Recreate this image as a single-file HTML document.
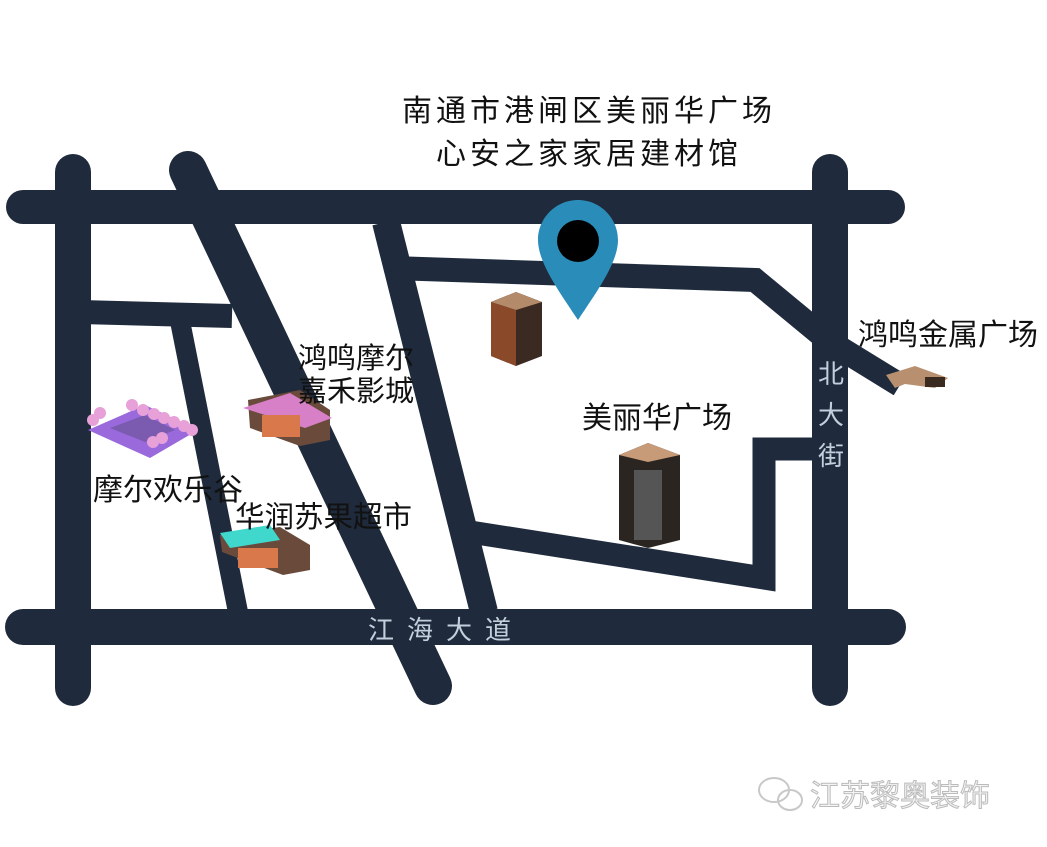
<!DOCTYPE html>
<html><head><meta charset="utf-8"><style>
html,body{margin:0;padding:0;background:#fff;}
svg{display:block}
text{font-family:"Liberation Sans","Noto Sans CJK SC",sans-serif;}
</style></head><body>
<svg width="1047" height="847" viewBox="0 0 1047 847" xmlns="http://www.w3.org/2000/svg">
<rect width="1047" height="847" fill="#fff"/>
<g stroke="#1f2b3c" fill="none">
  <line x1="23" y1="207" x2="888" y2="207" stroke-width="34" stroke-linecap="round"/>
  <line x1="23" y1="627" x2="888" y2="627" stroke-width="36" stroke-linecap="round"/>
  <line x1="73" y1="172" x2="73" y2="688" stroke-width="36" stroke-linecap="round"/>
  <line x1="830" y1="172" x2="830" y2="688" stroke-width="36" stroke-linecap="round"/>
  <line x1="188" y1="170" x2="433" y2="686" stroke-width="38" stroke-linecap="round"/>
  <line x1="386" y1="222" x2="484" y2="612" stroke-width="28"/>
  <line x1="80" y1="312" x2="232" y2="316" stroke-width="24"/>
  <line x1="179" y1="316" x2="238" y2="612" stroke-width="20"/>
  <polyline points="392,268 755,280 830,342 900,385" stroke-width="24" stroke-linejoin="miter"/>
  <polyline points="470,532 764,578 764,449 815,449" stroke-width="23" stroke-linejoin="miter"/>
</g>
<!-- pin -->
<path d="M578,200 C600,200 618,218 618,240 C618,262 598,290 578,320 C558,290 538,262 538,240 C538,218 556,200 578,200 Z" fill="#2a8cb8"/>
<circle cx="578" cy="241" r="21" fill="#000"/>
<!-- buildings -->
<g>
  <polygon points="491,302 516,292 542,302 542,356 516,366 491,356" fill="#3b2a22"/>
  <polygon points="491,302 516,292 542,302 516,310" fill="#b38a6a"/>
  <polygon points="491,302 516,310 516,366 491,356" fill="#8a4a2a"/>
  <polygon points="619,455 648,443 680,455 680,540 648,548 619,540" fill="#2a2520"/>
  <polygon points="619,455 648,443 680,455 648,462" fill="#c79a78"/>
  <rect x="634" y="470" width="28" height="70" fill="#555"/>
  <polygon points="248,400 300,390 330,410 330,440 300,446 250,428" fill="#6a4a3a"/>
  <polygon points="243,408 290,393 332,418 305,428" fill="#d77fc7"/>
  <rect x="262" y="415" width="38" height="22" fill="#d9784a"/>
  <polygon points="220,535 280,527 310,545 310,570 283,575 222,552" fill="#6a4a3a"/>
  <polygon points="220,533 270,525 280,540 230,548" fill="#40d8cc"/>
  <rect x="238" y="548" width="40" height="20" fill="#d9784a"/>
  <polygon points="88,430 145,405 198,430 150,458" fill="#9a6adc"/>
  <polygon points="110,428 145,415 175,430 145,442" fill="#7a5bb0"/>
  <g fill="#e7a0d8"><circle cx="93" cy="420" r="6"/><circle cx="100" cy="413" r="6"/><circle cx="132" cy="405" r="6"/><circle cx="143" cy="410" r="6"/><circle cx="154" cy="414" r="6"/><circle cx="164" cy="418" r="6"/><circle cx="174" cy="422" r="6"/><circle cx="184" cy="426" r="6"/><circle cx="192" cy="430" r="6"/><circle cx="153" cy="442" r="6"/><circle cx="162" cy="438" r="6"/></g>
  <polygon points="886,375 915,366 948,378 935,388 905,384 895,388" fill="#b89070"/>
  <rect x="925" y="377" width="20" height="10" fill="#3a2a20"/>
</g>
<!-- labels -->
<g font-size="30" fill="#111" text-anchor="middle" letter-spacing="4">
  <text x="589" y="121">南通市港闸区美丽华广场</text>
  <text x="589" y="164">心安之家家居建材馆</text>
</g>
<g font-size="30" fill="#111">
  <text x="298" y="368" font-size="29">鸿鸣摩尔</text>
  <text x="298" y="401" font-size="29">嘉禾影城</text>
  <text x="93" y="500">摩尔欢乐谷</text>
  <text x="235" y="527" font-size="29.5">华润苏果超市</text>
  <text x="582" y="428">美丽华广场</text>
  <text x="858" y="345">鸿鸣金属广场</text>
</g>
<g font-size="26" fill="#c3cfdc" text-anchor="middle">
  <text x="831" y="383">北</text>
  <text x="831" y="424">大</text>
  <text x="831" y="465">街</text>
</g>
<text x="368" y="639" font-size="26" fill="#c3cfdc" letter-spacing="13">江海大道</text>
<!-- watermark -->
<g fill="none" stroke="#c8c8c8" stroke-width="2">
  <ellipse cx="774" cy="790" rx="15" ry="12"/>
  <ellipse cx="790" cy="800" rx="12" ry="10"/>
</g>
<text x="810" y="806" font-size="30" fill="#f4f4f4" stroke="#bbb" stroke-width="1">江苏黎奥装饰</text>
</svg>
</body></html>
